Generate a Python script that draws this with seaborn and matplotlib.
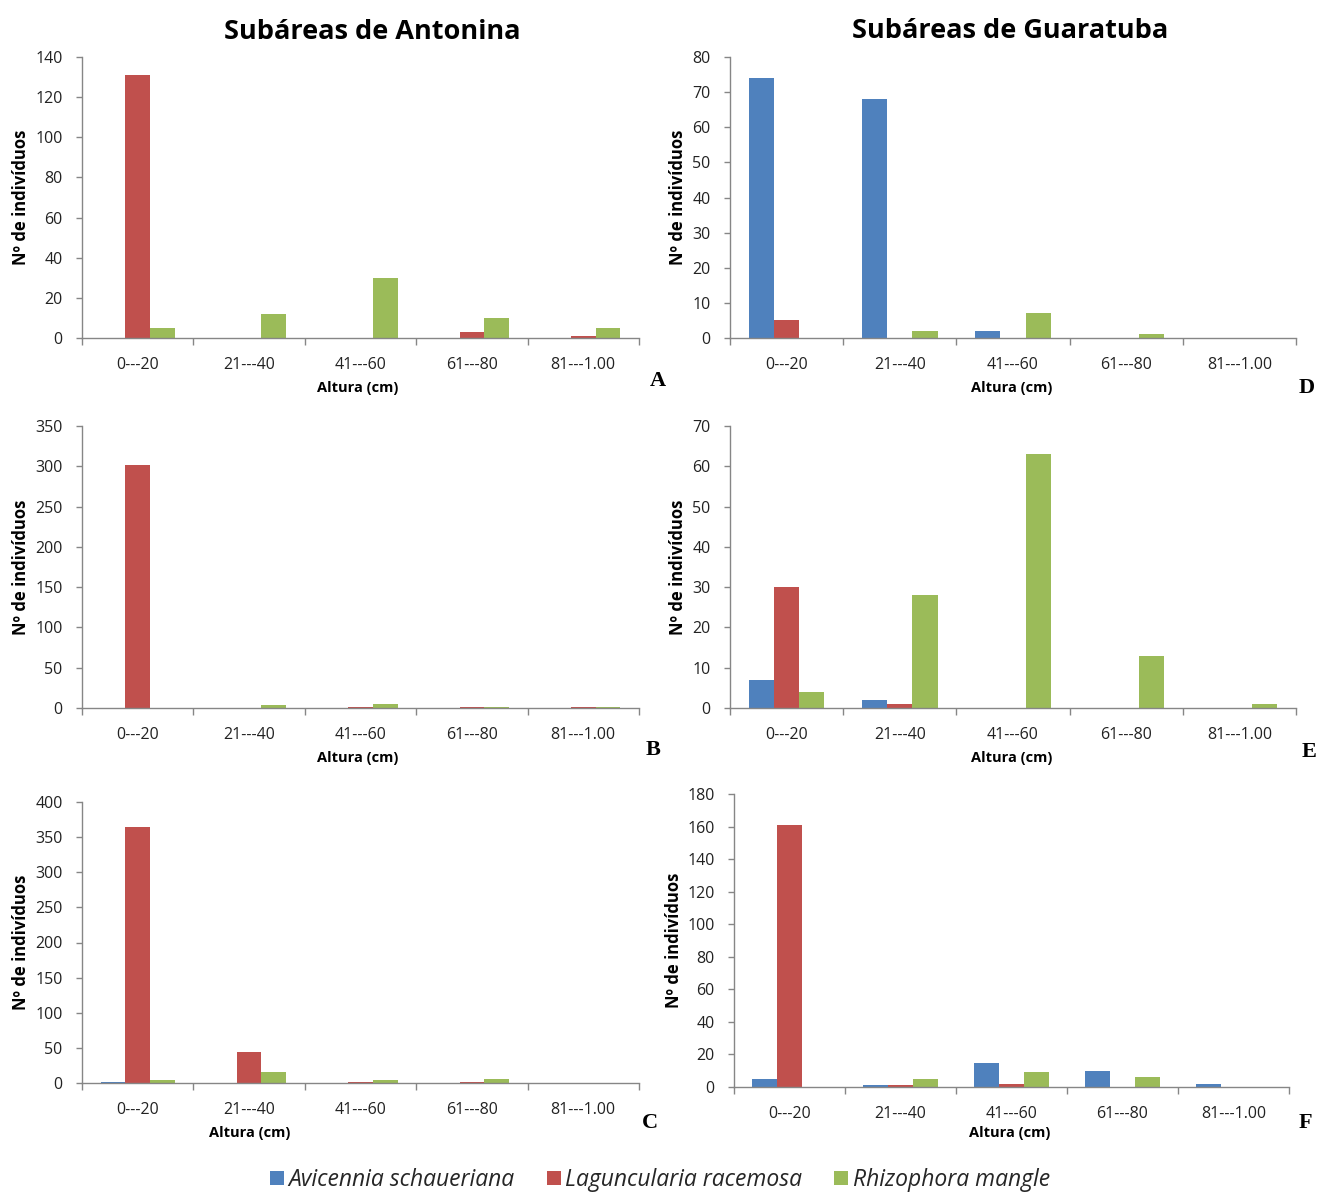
import matplotlib
matplotlib.use("Agg")
import matplotlib.pyplot as plt
from matplotlib.patches import Patch
import numpy as np
import pandas as pd
import seaborn as sns

# Height classes and species
classes = ["0---20", "21---40", "41---60", "61---80", "81---1.00"]
species = ["Avicennia schaueriana", "Laguncularia racemosa", "Rhizophora mangle"]
colors = ["#4F81BD", "#C0504D", "#9BBB59"]

# Antonina subareas (A, B, C): counts per class for each species
antonina_a_avicennia = [0, 0, 0, 0, 0]
antonina_a_laguncularia = [131, 0, 0, 3, 1]
antonina_a_rhizophora = [5, 12, 30, 10, 5]

antonina_b_avicennia = [0, 0, 0, 0, 0]
antonina_b_laguncularia = [302, 0, 1, 1, 1]
antonina_b_rhizophora = [0, 4, 5, 1, 1]

antonina_c_avicennia = [1, 0, 0, 0, 0]
antonina_c_laguncularia = [365, 44, 1, 1, 0]
antonina_c_rhizophora = [4, 15, 4, 6, 0]

# Guaratuba subareas (D, E, F)
guaratuba_d_avicennia = [74, 68, 2, 0, 0]
guaratuba_d_laguncularia = [5, 0, 0, 0, 0]
guaratuba_d_rhizophora = [0, 2, 7, 1, 0]

guaratuba_e_avicennia = [7, 2, 0, 0, 0]
guaratuba_e_laguncularia = [30, 1, 0, 0, 0]
guaratuba_e_rhizophora = [4, 28, 63, 13, 1]

guaratuba_f_avicennia = [5, 1, 15, 10, 2]
guaratuba_f_laguncularia = [161, 1, 2, 0, 0]
guaratuba_f_rhizophora = [0, 5, 9, 6, 0]

# y-axis maxima and steps per panel
y_max = {"A": 140, "B": 350, "C": 400, "D": 80, "E": 70, "F": 180}
y_step = {"A": 20, "B": 50, "C": 50, "D": 10, "E": 10, "F": 20}

panels = {
    "A": (antonina_a_avicennia, antonina_a_laguncularia, antonina_a_rhizophora),
    "B": (antonina_b_avicennia, antonina_b_laguncularia, antonina_b_rhizophora),
    "C": (antonina_c_avicennia, antonina_c_laguncularia, antonina_c_rhizophora),
    "D": (guaratuba_d_avicennia, guaratuba_d_laguncularia, guaratuba_d_rhizophora),
    "E": (guaratuba_e_avicennia, guaratuba_e_laguncularia, guaratuba_e_rhizophora),
    "F": (guaratuba_f_avicennia, guaratuba_f_laguncularia, guaratuba_f_rhizophora),
}

sns.set_theme(style="white")
plt.rcParams["font.family"] = ["Open Sans", "DejaVu Sans"]

W, H = 1320, 1192
fig = plt.figure(figsize=(W / 100, H / 100), dpi=100)
fig.patch.set_facecolor("white")


def px_rect(left, top, right, bottom):
    return [left / W, 1 - bottom / H, (right - left) / W, (bottom - top) / H]


# axes boxes in pixels: left, top, right, bottom
boxes = {
    "A": (82, 57, 639, 338),
    "B": (82, 426, 639, 708),
    "C": (82, 802, 639, 1083),
    "D": (730, 57, 1296, 338),
    "E": (730, 426, 1296, 708),
    "F": (734, 794, 1289, 1087),
}

# x-label positions (pixel centres) and panel letter positions
xlabel_pos = {"A": (358, 388), "B": (358, 758), "C": (250, 1133),
              "D": (1012, 388), "E": (1012, 758), "F": (1010, 1133)}
letter_pos = {"A": (658, 381), "B": (653, 750), "C": (650, 1123),
              "D": (1307, 388), "E": (1309, 752), "F": (1305, 1123)}
# right edge (screen) of the rotated y-label
ylabel_x = {"A": 30, "B": 30, "C": 30, "D": 687, "E": 687, "F": 683}

axis_grey = "#868686"

for key, series in panels.items():
    ax = fig.add_axes(px_rect(*boxes[key]))
    df = pd.DataFrame({
        "Altura": np.tile(classes, 3),
        "Espécie": np.repeat(species, len(classes)),
        "n": np.concatenate(series),
    })
    sns.barplot(data=df, x="Altura", y="n", hue="Espécie", hue_order=species,
                order=classes, palette=colors, saturation=1, width=0.667,
                legend=False, ax=ax, linewidth=0, errorbar=None)
    ax.set_xlim(-0.5, len(classes) - 0.5)
    ax.set_ylim(0, y_max[key])
    ax.set_yticks(np.arange(0, y_max[key] + 1, y_step[key]))
    ax.set_xlabel("")
    ax.set_ylabel("Nº de indivíduos", fontsize=12, fontweight="bold",
                  color="black")
    l, t, r, b = boxes[key]
    ax.yaxis.set_label_coords((ylabel_x[key] - l) / (r - l), 0.5)

    for s in ["top", "right"]:
        ax.spines[s].set_visible(False)
    for s in ["left", "bottom"]:
        ax.spines[s].set_color(axis_grey)
        ax.spines[s].set_linewidth(1.0)

    # category boundaries carry the x tick marks
    ax.set_xticks(np.arange(-0.5, len(classes), 1.0), minor=True)
    ax.tick_params(axis="x", which="major", length=0, pad=14,
                   labelsize=11.5, labelcolor="#222222")
    ax.tick_params(axis="x", which="minor", length=5, width=1,
                   color=axis_grey, direction="out", bottom=True)
    ax.tick_params(axis="y", which="major", length=4, width=1,
                   color=axis_grey, direction="out", left=True,
                   labelsize=11.5, labelcolor="#222222", pad=10)

    xl, yl = xlabel_pos[key]
    fig.text(xl / W, 1 - yl / H, "Altura (cm)", ha="center", va="center",
             fontsize=10.5, fontweight="bold", color="black")
    lx, ly = letter_pos[key]
    fig.text(lx / W, 1 - ly / H, key, ha="center", va="center",
             fontsize=16, fontweight="bold", family="Liberation Serif",
             color="black")

fig.text(372 / W, 1 - 32 / H, "Subáreas de Antonina", ha="center",
         va="center", fontsize=19.5, fontweight="bold", color="black")
fig.text(1010 / W, 1 - 31 / H, "Subáreas de Guaratuba", ha="center",
         va="center", fontsize=19.5, fontweight="bold", color="black")

handles = [Patch(facecolor=c, edgecolor="none", label=s)
           for c, s in zip(colors, species)]
leg = fig.legend(handles=handles, loc="center", ncol=3,
                 bbox_to_anchor=(660 / W, 1 - 1180 / H), frameon=False,
                 prop={"style": "italic", "size": 16.5},
                 handlelength=0.6, handleheight=0.6, handletextpad=0.2,
                 columnspacing=1.4)

fig.savefig("out.png", dpi=100, facecolor="white")
